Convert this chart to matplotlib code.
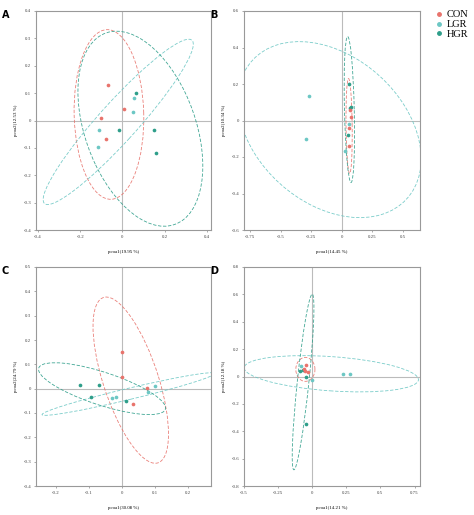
import matplotlib
matplotlib.use("Agg")
import matplotlib.pyplot as plt
from matplotlib.patches import Ellipse

groups = ["CON", "LGR", "HGR"]
colors = {"CON": "#E8736C", "LGR": "#6CC7C4", "HGR": "#2E9E8A"}

# points per panel: group -> (x list, y list)
A_pts = {"CON": ([-0.07, 0.008, -0.10, -0.08], [0.13, 0.043, 0.009, -0.067]),
         "LGR": ([-0.11, -0.116, 0.056, 0.048], [-0.034, -0.098, 0.083, 0.032]),
         "HGR": ([0.063, -0.017, 0.152, 0.161], [0.10, -0.034, -0.034, -0.118])}
B_pts = {"CON": ([0.065, 0.075, 0.055, 0.055], [0.057, 0.02, -0.04, -0.14]),
         "LGR": ([-0.265, -0.29, 0.055, 0.03], [0.134, -0.10, -0.02, -0.167]),
         "HGR": ([0.06, 0.075, 0.05, 0.068], [0.20, 0.073, -0.08, 0.07])}
C_pts = {"CON": ([0.0, 0.0, 0.076, 0.033], [0.15, 0.047, 0.001, -0.065]),
         "LGR": ([-0.03, -0.018, 0.10, 0.079], [-0.039, -0.033, 0.013, -0.012]),
         "HGR": ([-0.128, -0.068, -0.093, 0.014], [0.015, 0.015, -0.036, -0.049])}
D_pts = {"CON": ([-0.045, -0.03, -0.06, -0.05], [0.085, 0.03, 0.055, 0.04]),
         "LGR": ([-0.082, 0.0, 0.227, 0.276], [0.078, -0.025, 0.015, 0.015]),
         "HGR": ([-0.09, -0.07, -0.045, -0.045], [0.037, 0.05, 0.0, -0.346])}

# ellipses: group -> (cx, cy, width, height, angle)
A_ell = {"CON": (-0.064, 0.022, 0.62, 0.33, 92),
         "LGR": (-0.02, -0.005, 0.92, 0.16, 40),
         "HGR": (0.085, -0.03, 0.78, 0.50, -58)}
B_ell = {"CON": (0.06, -0.03, 0.52, 0.05, 91),
         "LGR": (-0.1, -0.05, 1.55, 0.88, -18),
         "HGR": (0.062, 0.06, 0.80, 0.08, 92)}
C_ell = {"CON": (0.027, 0.035, 0.70, 0.17, 103),
         "LGR": (0.02, -0.022, 0.55, 0.045, 18),
         "HGR": (-0.06, 0.0, 0.42, 0.13, -25)}
D_ell = {"CON": (-0.05, 0.052, 0.175, 0.14, 90),
         "LGR": (0.14, 0.02, 1.28, 0.25, -4),
         "HGR": (-0.067, -0.04, 1.29, 0.085, 84)}

panels = [
    ("A", A_pts, A_ell, (-0.41, 0.42), (-0.4, 0.4), [-0.4, -0.2, 0, 0.2, 0.4], [-0.4, -0.3, -0.2, -0.1, 0, 0.1, 0.2, 0.3, 0.4], "pcoa1(19.95 %)", "pcoa2(12.53 %)"),
    ("B", B_pts, B_ell, (-0.8, 0.64), (-0.6, 0.6), [-0.75, -0.5, -0.25, 0, 0.25, 0.5], [-0.6, -0.4, -0.2, 0, 0.2, 0.4, 0.6], "pcoa1(14.45 %)", "pcoa2(10.34 %)"),
    ("C", C_pts, C_ell, (-0.26, 0.27), (-0.4, 0.5), [-0.2, -0.1, 0, 0.1, 0.2], [-0.4, -0.3, -0.2, -0.1, 0, 0.1, 0.2, 0.3, 0.4, 0.5], "pcoa1(30.08 %)", "pcoa2(24.79 %)"),
    ("D", D_pts, D_ell, (-0.5, 0.79), (-0.8, 0.8), [-0.5, -0.25, 0, 0.25, 0.5, 0.75], [-0.8, -0.6, -0.4, -0.2, 0, 0.2, 0.4, 0.6, 0.8], "pcoa1(14.21 %)", "pcoa2(12.18 %)"),
]

W, H = 474, 515
fig = plt.figure(figsize=(W / 100, H / 100), dpi=100)
boxes = [(36, 11, 211, 230), (244, 11, 420, 230), (36, 267, 211, 486), (244, 267, 420, 486)]

def fmt(v):
    return "0" if v == 0 else ("%g" % v)

for (lab, pts, ell, xl, yl, xt, yt, xlab, ylab), (x0, y0, x1, y1) in zip(panels, boxes):
    ax = fig.add_axes([x0 / W, 1 - y1 / H, (x1 - x0) / W, (y1 - y0) / H])
    ax.set_xlim(*xl)
    ax.set_ylim(*yl)
    ax.axhline(0, color="#BBBBBB", lw=0.8, zorder=0)
    ax.axvline(0, color="#BBBBBB", lw=0.8, zorder=0)
    for g in groups:
        cx, cy, w, h, a = ell[g]
        ax.add_patch(Ellipse((cx, cy), w, h, angle=a, fill=False, ls=(0, (4, 2)),
                             lw=0.6, ec=colors[g], alpha=0.9))
    for g in ["HGR", "LGR", "CON"]:
        xs, ys = pts[g]
        ax.scatter(xs, ys, s=7, color=colors[g], zorder=3, lw=0)
    ax.set_xticks(xt)
    ax.set_yticks(yt)
    ax.set_xticklabels([fmt(v) for v in xt], fontsize=3.5, family="Liberation Serif")
    ax.set_yticklabels([fmt(v) for v in yt], fontsize=3.5, family="Liberation Serif")
    ax.tick_params(length=1.5, width=0.5, pad=2, colors="#888888", labelcolor="#444444")
    for s in ax.spines.values():
        s.set_color("#999999")
        s.set_linewidth(0.8)
    ax.set_xlabel(xlab, fontsize=3.5, family="Liberation Serif", labelpad=8)
    ax.set_ylabel(ylab, fontsize=3.5, family="Liberation Serif", labelpad=4)
    fig.text((x0 - 34) / W, 1 - (y0 + 4) / H, lab, fontsize=7, fontweight="bold", va="center", ha="left")

handles = [plt.Line2D([], [], marker="o", ls="", ms=2.5, color=colors[g], label=g) for g in groups]
fig.legend(handles=handles, loc="upper left", bbox_to_anchor=(430 / W, 1 - 6 / H), frameon=False,
           prop={"family": "Liberation Serif", "size": 7.5}, handletextpad=0.2, labelspacing=0.05,
           handlelength=1.0, borderaxespad=0)
fig.savefig("out.png", dpi=100)
